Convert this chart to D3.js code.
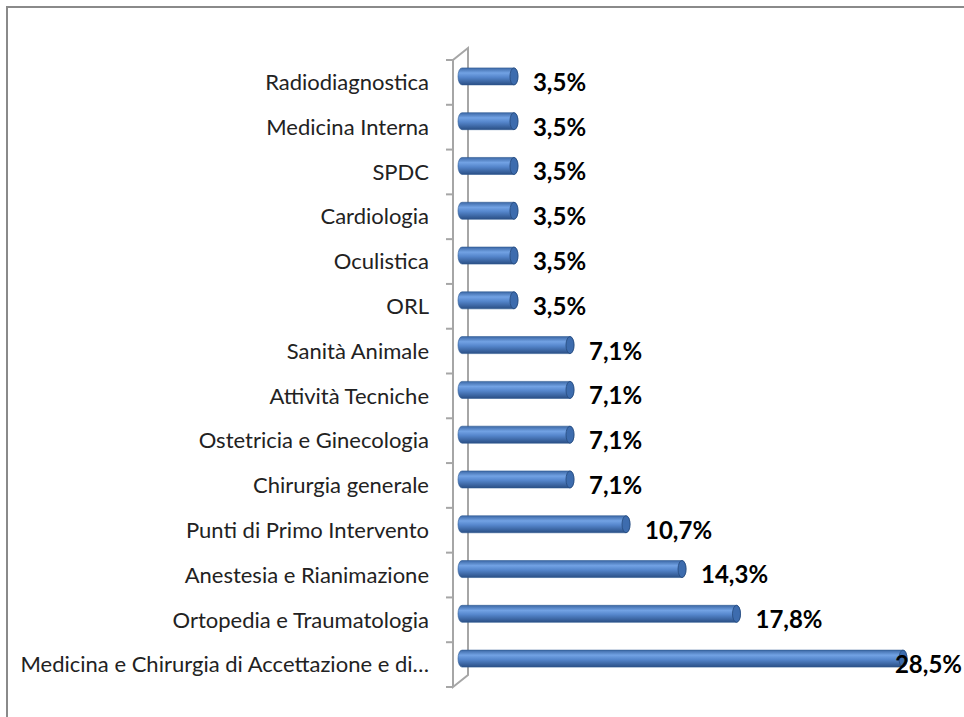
<!DOCTYPE html>
<html>
<head>
<meta charset="utf-8">
<script src="https://cdn.jsdelivr.net/npm/d3@7"></script>
<style>
  body { margin: 0; background: #fff; }
  svg text { font-family: Lato, "Open Sans", sans-serif; }
</style>
</head>
<body>
<script>

var width = 964,
    height = 717;

// categories from top to bottom
var categories = [
  "Radiodiagnostica",
  "Medicina Interna",
  "SPDC",
  "Cardiologia",
  "Oculistica",
  "ORL",
  "Sanità Animale",
  "Attività Tecniche",
  "Ostetricia e Ginecologia",
  "Chirurgia generale",
  "Punti di Primo Intervento",
  "Anestesia e Rianimazione",
  "Ortopedia e Traumatologia",
  "Medicina e Chirurgia di Accettazione e di…"
];
var values = [3.5, 3.5, 3.5, 3.5, 3.5, 3.5, 7.1, 7.1, 7.1, 7.1, 10.7, 14.3, 17.8, 28.5];
var labels = ["3,5%", "3,5%", "3,5%", "3,5%", "3,5%", "3,5%", "7,1%", "7,1%", "7,1%", "7,1%", "10,7%", "14,3%", "17,8%", "28,5%"];

var svg = d3.select("body").append("svg")
    .attr("width", width)
    .attr("height", height);

// outer frame (runs off the right and bottom edge)
svg.append("rect")
    .attr("x", 7).attr("y", 7)
    .attr("width", 1000).attr("height", 1000)
    .attr("fill", "none")
    .attr("stroke", "#8a8a8a")
    .attr("stroke-width", 2);

var depth = 15, lift = 12;   // 3d offset of the back wall
var front = 453;

var y = d3.scaleBand()
    .domain(categories)
    .range([60, 687]);

var x = d3.scaleLinear()
    .domain([0, 28.5])
    .range([463.5, 907]);

var defs = svg.append("defs");
var grad = defs.append("linearGradient")
    .attr("id", "cyl")
    .attr("x1", 0).attr("y1", 0).attr("x2", 0).attr("y2", 1);
grad.append("stop").attr("offset", "0%").attr("stop-color", "#3c68a6");
grad.append("stop").attr("offset", "30%").attr("stop-color", "#72a2e4");
grad.append("stop").attr("offset", "55%").attr("stop-color", "#5586cc");
grad.append("stop").attr("offset", "100%").attr("stop-color", "#2a4f85");

// wall / axis
var wall = svg.append("g")
    .attr("stroke", "#a6a6a6")
    .attr("stroke-width", 2)
    .attr("fill", "none");
wall.append("path")
    .attr("d", "M" + front + "," + y.range()[0] + "V" + y.range()[1] +
      "L" + (front + depth) + "," + (y.range()[1] - lift) +
      "V" + (y.range()[0] - lift) + "Z");

var tickY = categories.map(function(c) { return y(c); }).concat([y.range()[1]]);
wall.selectAll("line.tick")
    .data(tickY)
    .enter().append("line")
    .attr("class", "tick")
    .attr("x1", front - 7).attr("x2", front)
    .attr("y1", function(d) { return d; })
    .attr("y2", function(d) { return d; });

// category labels
svg.selectAll("text.cat")
    .data(categories)
    .enter().append("text")
    .attr("class", "cat")
    .attr("x", 429)
    .attr("y", function(d) { return y(d) + y.bandwidth() / 2; })
    .attr("dy", "0.35em")
    .attr("text-anchor", "end")
    .attr("font-size", 22)
    .attr("fill", "#222")
    .text(function(d) { return d; });

// cylinders
var bh = 17, rx = 4;
var bars = svg.selectAll("g.bar")
    .data(values)
    .enter().append("g")
    .attr("class", "bar")
    .attr("transform", function(d, i) {
      return "translate(0," + (y(categories[i]) + y.bandwidth() / 2 - 6) + ")";
    });

bars.append("path")
    .attr("d", function(d) {
      var x0 = 458, x1 = x(d) - rx;
      return "M" + (x0 + rx) + "," + (-bh / 2) + "H" + x1 +
        "A" + rx + "," + (bh / 2) + " 0 0 1 " + x1 + "," + (bh / 2) +
        "H" + (x0 + rx) +
        "A" + rx + "," + (bh / 2) + " 0 0 1 " + (x0 + rx) + "," + (-bh / 2) + "Z";
    })
    .attr("fill", "url(#cyl)")
    .attr("stroke", "#2f5a92")
    .attr("stroke-width", 0.6);

bars.append("ellipse")
    .attr("cx", function(d) { return x(d) - rx; })
    .attr("cy", 0)
    .attr("rx", rx)
    .attr("ry", bh / 2)
    .attr("fill", "#3d6cae")
    .attr("stroke", "#264a7c")
    .attr("stroke-width", 0.8);

// value labels
svg.selectAll("text.val")
    .data(values)
    .enter().append("text")
    .attr("class", "val")
    .attr("y", function(d, i) { return y(categories[i]) + y.bandwidth() / 2; })
    .attr("dy", "0.35em")
    .attr("font-size", 24)
    .attr("font-weight", "bold")
    .attr("fill", "#000")
    .text(function(d, i) { return labels[i]; })
    .attr("x", function(d) {
      var w = this.getComputedTextLength();
      return Math.min(x(d) + 15, width - 2 - w);
    });

</script>
</body>
</html>
